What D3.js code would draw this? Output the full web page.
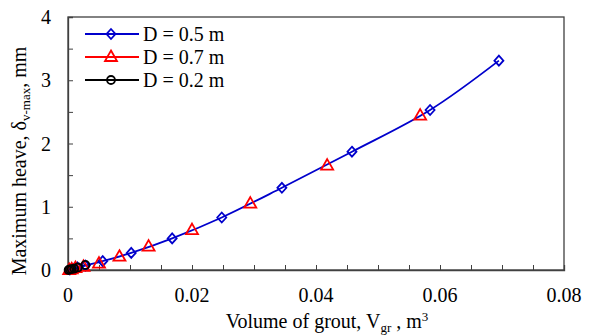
<!DOCTYPE html>
<html>
<head>
<meta charset="utf-8">
<script src="https://cdn.jsdelivr.net/npm/d3@7"></script>
<style>
  body { margin: 0; background: #fff; }
  text { font-family: "Liberation Serif", "Times New Roman", serif; fill: #000; }
</style>
</head>
<body>
<svg width="593" height="336"></svg>
<script>
// heave vs grout volume, three borehole diameters
const seriesNames = ["D = 0.5 m", "D = 0.7 m", "D = 0.2 m"];
const seriesColors = ["#0000cc", "#ff0000", "#000000"];

const volD05 = [0.0003, 0.0008, 0.0015, 0.0028, 0.0056, 0.0102, 0.0168, 0.0248, 0.0345, 0.0458, 0.0584, 0.0695];
const heaveD05 = [0.01, 0.02, 0.04, 0.07, 0.14, 0.27, 0.50, 0.83, 1.30, 1.87, 2.53, 3.31];

const volD07 = [0.0002, 0.0006, 0.0012, 0.0025, 0.005, 0.0083, 0.013, 0.020, 0.0294, 0.0418, 0.0568];
const heaveD07 = [0.0, 0.01, 0.03, 0.05, 0.10, 0.21, 0.37, 0.63, 1.05, 1.65, 2.44];

const volD02 = [0.0001, 0.0003, 0.0006, 0.001, 0.0016, 0.0028];
const heaveD02 = [0.0, 0.01, 0.015, 0.02, 0.04, 0.08];

const xTicks = [0, 0.02, 0.04, 0.06, 0.08];
const yTicks = [0, 1, 2, 3, 4];

const margin = { top: 17, right: 29, bottom: 66, left: 68 };
const W = 593, H = 336;
const iw = W - margin.left - margin.right;
const ih = H - margin.top - margin.bottom;

const svg = d3.select("svg");
const g = svg.append("g").attr("transform", `translate(${margin.left},${margin.top})`);

const x = d3.scaleLinear().domain([0, 0.08]).range([0, iw]);
const y = d3.scaleLinear().domain([0, 4]).range([ih, 0]);

const axisColor = "#404040";
const fs = 20;

// frame
g.append("rect")
  .attr("width", iw).attr("height", ih)
  .attr("fill", "none").attr("stroke", axisColor).attr("stroke-width", 1.3);

// minor inside ticks
const xAxis = d3.axisBottom(x).tickValues(d3.range(0, 0.0801, 0.005)).tickSize(-5).tickFormat("");
const yAxis = d3.axisLeft(y).tickValues(d3.range(0, 4.01, 0.5)).tickSize(-5).tickFormat("");

const gx = g.append("g").attr("transform", `translate(0,${ih})`).call(xAxis);
const gy = g.append("g").call(yAxis);
[gx, gy].forEach(a => {
  a.select(".domain").attr("stroke", axisColor).attr("stroke-width", 1.3);
  a.selectAll(".tick line").attr("stroke", axisColor).attr("stroke-width", 1);
});

g.selectAll(".xlab").data(xTicks).enter().append("text")
  .attr("x", d => x(d)).attr("y", ih + 32)
  .attr("text-anchor", "middle").attr("font-size", fs)
  .text(d => d === 0 ? "0" : d3.format(".2f")(d));

g.selectAll(".ylab").data(yTicks).enter().append("text")
  .attr("x", -17).attr("y", d => y(d) + 7)
  .attr("text-anchor", "end").attr("font-size", fs)
  .text(d => d);

// axis titles
const xt = svg.append("text")
  .attr("x", 327).attr("y", 328)
  .attr("text-anchor", "middle").attr("font-size", fs);
xt.append("tspan").text("Volume of grout, V");
xt.append("tspan").attr("font-size", 13).attr("dy", 4).text("gr");
xt.append("tspan").attr("dy", -4).text(" , m");
xt.append("tspan").attr("font-size", 13).attr("dy", -7).text("3");

const yt = svg.append("text")
  .attr("transform", `translate(26,161) rotate(-90)`)
  .attr("text-anchor", "middle").attr("font-size", fs);
yt.append("tspan").text("Maximum heave, δ");
yt.append("tspan").attr("font-size", 13).attr("dy", 4).text("v-max");
yt.append("tspan").attr("dy", -4).text(", mm");

// series
const series = [
  { name: seriesNames[0], color: seriesColors[0], xs: volD05, ys: heaveD05, shape: "diamond", showLine: true },
  { name: seriesNames[1], color: seriesColors[1], xs: volD07, ys: heaveD07, shape: "triangle", showLine: false },
  { name: seriesNames[2], color: seriesColors[2], xs: volD02, ys: heaveD02, shape: "circle", showLine: true },
];

const line = d3.line()
  .x(d => x(d[0])).y(d => y(d[1]))
  .curve(d3.curveCatmullRom.alpha(0.5));

// red curve sits under the blue one in the original, so only blue and black show
[2, 0].forEach(i => {
  const s = series[i];
  g.append("path")
    .datum(d3.zip(s.xs, s.ys))
    .attr("d", line)
    .attr("fill", "none").attr("stroke", s.color).attr("stroke-width", 1.8);
});

const markerPath = (shape) => {
  if (shape === "diamond") return "M0,-5L4.5,0L0,5L-4.5,0Z";
  if (shape === "triangle") return "M0,-6.5L6,4L-6,4Z";
  return d3.symbol(d3.symbolCircle, 50)();
};

const drawMarker = (sel, s, px, py) => {
  sel.append("path")
    .attr("d", markerPath(s.shape))
    .attr("transform", `translate(${px},${py})`)
    .attr("fill", "none").attr("stroke", s.color).attr("stroke-width", 1.8);
};

series.forEach(s => {
  d3.zip(s.xs, s.ys).forEach(d => drawMarker(g, s, x(d[0]), y(d[1])));
});

// legend
const legend = svg.append("g");
series.forEach((s, i) => {
  const ly = 34 + i * 23;
  legend.append("line")
    .attr("x1", 85).attr("x2", 139).attr("y1", ly).attr("y2", ly)
    .attr("stroke", s.color).attr("stroke-width", 1.8);
  drawMarker(legend, s, 111, ly);
  legend.append("text")
    .attr("x", 143).attr("y", ly + 7)
    .attr("font-size", fs)
    .text(s.name);
});
</script>
</body>
</html>
